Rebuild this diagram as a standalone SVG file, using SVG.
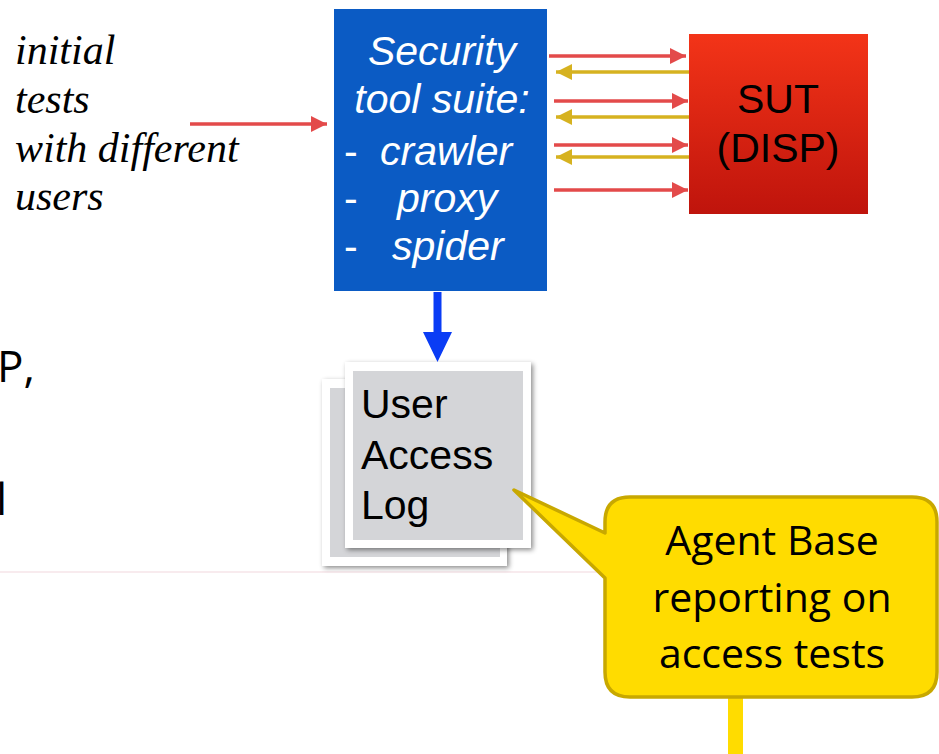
<svg xmlns="http://www.w3.org/2000/svg" width="939" height="754" viewBox="0 0 939 754">
<style>
.ser{font-family:"Liberation Serif","Times New Roman",serif;font-style:italic;font-size:42px;fill:#000}
.wt{font-family:"Liberation Sans",Arial,sans-serif;font-style:italic;font-size:41px;fill:#fff}
.dash{font-family:"Liberation Sans",Arial,sans-serif;font-size:41px;fill:#fff}
.bk{font-family:"Liberation Sans",Arial,sans-serif;font-size:41px;fill:#000}
.cal{font-family:"Open Sans","Noto Sans",sans-serif;font-size:41px;fill:#000}
.red{stroke:#e34a4a;stroke-width:3.5;fill:none}
.yel{stroke:#d6b220;stroke-width:3.5;fill:none}
</style>
<defs>
<linearGradient id="sutg" x1="0" y1="0" x2="0" y2="1">
<stop offset="0" stop-color="#f33418"/>
<stop offset="1" stop-color="#bf140c"/>
</linearGradient>
<marker id="ar" viewBox="0 0 16 16" refX="16" refY="8" markerUnits="userSpaceOnUse" markerWidth="16" markerHeight="16" orient="auto">
<path d="M0,0 L16,8 L0,16 Z" fill="#e34a4a"/>
</marker>
<marker id="ay" viewBox="0 0 16 16" refX="16" refY="8" markerUnits="userSpaceOnUse" markerWidth="16" markerHeight="16" orient="auto">
<path d="M0,0 L16,8 L0,16 Z" fill="#d6b220"/>
</marker>
<filter id="sh" x="-10%" y="-10%" width="125%" height="125%">
<feDropShadow dx="2" dy="2" stdDeviation="2.5" flood-color="#000" flood-opacity="0.45"/>
</filter>
</defs>

<line x1="0" y1="572" x2="620" y2="572" stroke="#f6e4e8" stroke-width="1.5"/>

<g id="partial-text">
<text class="cal" x="-3" y="382" style="font-size:44px">P,</text>
<text class="cal" x="-4" y="515" style="font-size:44px">l</text>
</g>

<g id="initial-tests">
<text class="ser" x="15" y="64">initial</text>
<text class="ser" x="15" y="113">tests</text>
<text class="ser" x="15" y="162">with different</text>
<text class="ser" x="15" y="210">users</text>
</g>

<g id="security-suite">
<rect x="334" y="9" width="213" height="282" fill="#0b5bc4"/>
<text class="wt" x="442" y="65" text-anchor="middle">Security</text>
<text class="wt" x="442" y="113" text-anchor="middle">tool suite:</text>
<text class="dash" x="344" y="165">-</text>
<text class="wt" x="380" y="165">crawler</text>
<text class="dash" x="344" y="212">-</text>
<text class="wt" x="397" y="212">proxy</text>
<text class="dash" x="344" y="260">-</text>
<text class="wt" x="392" y="260">spider</text>
</g>

<g id="sut">
<rect x="689" y="34" width="179" height="180" fill="url(#sutg)"/>
<text class="bk" x="778" y="113" text-anchor="middle">SUT</text>
<text class="bk" x="778" y="162" text-anchor="middle">(DISP)</text>
</g>

<g id="user-access-log">
<rect x="322" y="379" width="185" height="187" fill="#fff" filter="url(#sh)"/>
<rect x="330" y="388" width="170" height="169" fill="#d4d5d8"/>
<rect x="345" y="362" width="186" height="186" fill="#fff" filter="url(#sh)"/>
<rect x="353" y="371" width="170" height="169" fill="#d4d5d8"/>
<text class="bk" x="361" y="418">User</text>
<text class="bk" x="361" y="469">Access</text>
<text class="bk" x="361" y="519">Log</text>
</g>

<g id="callout">
<rect x="728" y="695" width="15" height="59" fill="#ffdc00"/>
<path d="M630,497 H912 Q937,497 937,522 V672 Q937,697 912,697 H630 Q605,697 605,672 V578 L514,490 L605,533 V522 Q605,497 630,497 Z" fill="#ffdc00" stroke="#c8a800" stroke-width="3.5" stroke-linejoin="round"/>
<text class="cal" x="772" y="555" text-anchor="middle">Agent Base</text>
<text class="cal" x="772" y="612" text-anchor="middle">reporting on</text>
<text class="cal" x="772" y="668" text-anchor="middle">access tests</text>
</g>

<g id="connectors">
<line class="red" x1="190" y1="124" x2="327" y2="124" marker-end="url(#ar)"/>
<line class="red" x1="549" y1="56" x2="686" y2="56" marker-end="url(#ar)"/>
<line class="yel" x1="689" y1="72" x2="556" y2="72" marker-end="url(#ay)"/>
<line class="red" x1="554" y1="101" x2="688" y2="101" marker-end="url(#ar)"/>
<line class="yel" x1="689" y1="117" x2="556" y2="117" marker-end="url(#ay)"/>
<line class="red" x1="554" y1="145" x2="688" y2="145" marker-end="url(#ar)"/>
<line class="yel" x1="689" y1="157" x2="556" y2="157" marker-end="url(#ay)"/>
<line class="red" x1="554" y1="190" x2="688" y2="190" marker-end="url(#ar)"/>
<path d="M433.5,292 H441.5 V332 H452 L437.5,362 L423,332 H433.5 Z" fill="#0a3cf5"/>
</g>
</svg>
